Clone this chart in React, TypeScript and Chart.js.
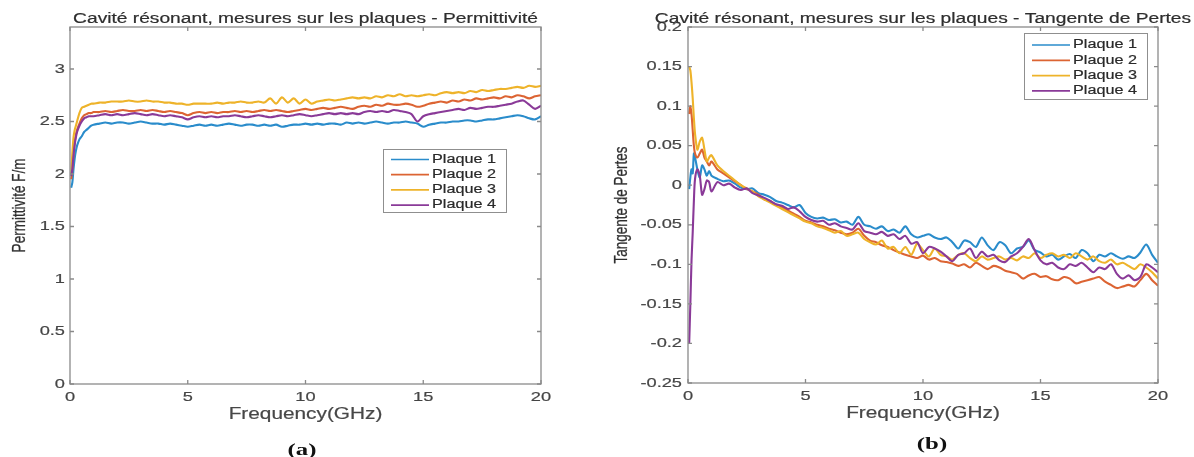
import React, { useEffect, useRef } from "react";
import { Chart, registerables } from "chart.js";

Chart.register(...registerables);

// ---------------- DATA ----------------
const freq = [
  0.05, 0.1, 0.15, 0.2, 0.25, 0.3, 0.4, 0.5, 0.6, 0.7, 0.8, 0.9,
  1, 1.25, 1.5, 1.75,
  2, 2.25, 2.5, 2.75,
  3, 3.25, 3.5, 3.75,
  4, 4.25, 4.5, 4.75,
  5, 5.25, 5.5, 5.75,
  6, 6.25, 6.5, 6.75,
  7, 7.25, 7.5, 7.75,
  8, 8.25, 8.5, 8.75,
  9, 9.25, 9.5, 9.75,
  10, 10.25, 10.5, 10.75,
  11, 11.25, 11.5, 11.75,
  12, 12.25, 12.5, 12.75,
  13, 13.25, 13.5, 13.75,
  14, 14.25, 14.5, 14.75,
  15, 15.25, 15.5, 15.75,
  16, 16.25, 16.5, 16.75,
  17, 17.25, 17.5, 17.75,
  18, 18.25, 18.5, 18.75,
  19, 19.25, 19.5, 19.75,
  20,
];

const seriesNames = ["Plaque 1", "Plaque 2", "Plaque 3", "Plaque 4"];

// Permittivité F/m
const permP1 = [
  1.87, 1.92, 2.05, 2.15, 2.22, 2.27, 2.33, 2.36, 2.4, 2.42, 2.44, 2.46,
  2.47, 2.48, 2.49, 2.48,
  2.49, 2.49, 2.48, 2.49,
  2.5, 2.49, 2.48, 2.48,
  2.47, 2.48, 2.47, 2.46,
  2.45, 2.46, 2.47, 2.46,
  2.47, 2.46, 2.47, 2.48,
  2.47, 2.46, 2.47, 2.47,
  2.46, 2.47, 2.46, 2.47,
  2.45, 2.46, 2.47, 2.47,
  2.48, 2.47, 2.48, 2.47,
  2.48, 2.48, 2.47, 2.49,
  2.48, 2.49, 2.48, 2.49,
  2.5, 2.49, 2.48, 2.49,
  2.49, 2.5, 2.49, 2.48,
  2.45, 2.47, 2.48, 2.49,
  2.49, 2.5, 2.5, 2.51,
  2.51, 2.5, 2.51, 2.52,
  2.52, 2.53, 2.54, 2.55,
  2.56, 2.55, 2.53, 2.52,
  2.55,
];
const permP2 = [
  1.95, 2.05, 2.2, 2.3, 2.37, 2.42, 2.48, 2.53, 2.56, 2.57, 2.58, 2.58,
  2.59, 2.59, 2.6, 2.59,
  2.6, 2.61, 2.6, 2.6,
  2.61, 2.6, 2.61, 2.6,
  2.59, 2.6, 2.59, 2.58,
  2.56, 2.58, 2.59, 2.58,
  2.59, 2.58, 2.59, 2.59,
  2.6, 2.59, 2.6, 2.59,
  2.6, 2.61, 2.6, 2.61,
  2.6, 2.59, 2.6, 2.61,
  2.62, 2.61, 2.62, 2.63,
  2.62, 2.63, 2.64, 2.63,
  2.62, 2.64, 2.65, 2.64,
  2.66, 2.65, 2.67, 2.66,
  2.66, 2.67, 2.66, 2.64,
  2.65, 2.67, 2.68, 2.69,
  2.68, 2.7, 2.69, 2.71,
  2.7, 2.72, 2.71, 2.72,
  2.73, 2.72, 2.74, 2.73,
  2.75, 2.74, 2.72, 2.74,
  2.75,
];
const permP3 = [
  2.0, 2.2, 2.35, 2.42, 2.46, 2.5, 2.58, 2.63, 2.64, 2.65, 2.66, 2.67,
  2.67, 2.68, 2.68, 2.69,
  2.69, 2.69, 2.7, 2.69,
  2.69, 2.7, 2.69, 2.69,
  2.68, 2.68, 2.67, 2.67,
  2.66, 2.67, 2.67, 2.67,
  2.67, 2.68, 2.67, 2.68,
  2.68, 2.69, 2.68, 2.68,
  2.69, 2.68, 2.72, 2.67,
  2.73, 2.68, 2.72, 2.67,
  2.71, 2.67, 2.69, 2.7,
  2.71, 2.7, 2.71, 2.72,
  2.73, 2.72, 2.73, 2.72,
  2.74, 2.73, 2.75, 2.74,
  2.76, 2.74, 2.75, 2.74,
  2.75, 2.76, 2.75, 2.77,
  2.78, 2.77, 2.78, 2.77,
  2.79, 2.78, 2.8, 2.79,
  2.8, 2.81, 2.81, 2.82,
  2.83, 2.82, 2.84, 2.83,
  2.84,
];
const permP4 = [
  1.98, 2.05, 2.18, 2.28, 2.35, 2.4, 2.46, 2.5, 2.53, 2.54, 2.55, 2.55,
  2.55, 2.56, 2.57, 2.56,
  2.57, 2.56, 2.57, 2.58,
  2.57, 2.56, 2.57, 2.56,
  2.55, 2.56, 2.55, 2.54,
  2.52, 2.54, 2.55, 2.54,
  2.55, 2.54, 2.55, 2.55,
  2.56, 2.55, 2.54, 2.55,
  2.56, 2.55, 2.54, 2.55,
  2.56, 2.55, 2.56, 2.57,
  2.56, 2.55, 2.56, 2.57,
  2.58, 2.57, 2.58, 2.57,
  2.58, 2.57, 2.59, 2.6,
  2.59, 2.6, 2.59, 2.61,
  2.6, 2.59, 2.57, 2.5,
  2.55, 2.57, 2.58, 2.59,
  2.6, 2.61, 2.62, 2.61,
  2.63, 2.62, 2.63, 2.64,
  2.64, 2.65, 2.66, 2.67,
  2.69, 2.7, 2.66, 2.62,
  2.65,
];

// Tangente de Pertes
const tanP1 = [
  -0.005, 0.01, 0.02, 0.015, 0.04, 0.035, 0.02, 0.01, 0.025, 0.02, 0.012, 0.018,
  0.012, 0.008, 0.005, 0.006,
  0.002, -0.003, -0.005, -0.004,
  -0.01, -0.012, -0.015, -0.02,
  -0.022, -0.025, -0.028, -0.025,
  -0.035, -0.04, -0.042, -0.041,
  -0.044, -0.043, -0.047, -0.046,
  -0.05, -0.04, -0.05, -0.052,
  -0.055, -0.052, -0.058, -0.056,
  -0.06, -0.052, -0.062, -0.066,
  -0.064, -0.062, -0.066, -0.068,
  -0.066, -0.072, -0.08, -0.07,
  -0.072, -0.078, -0.066, -0.076,
  -0.082, -0.072, -0.076, -0.086,
  -0.08, -0.078, -0.07, -0.082,
  -0.085, -0.09, -0.088, -0.094,
  -0.09, -0.087, -0.092, -0.082,
  -0.086, -0.096, -0.088, -0.09,
  -0.086, -0.09, -0.093, -0.09,
  -0.092, -0.085, -0.075, -0.088,
  -0.098,
];
const tanP2 = [
  0.09, 0.1, 0.09, 0.07, 0.05, 0.04, 0.035, 0.04, 0.045, 0.035, 0.03, 0.025,
  0.03, 0.02, 0.015, 0.01,
  0.005, 0.0, -0.005, -0.008,
  -0.012, -0.018, -0.02, -0.025,
  -0.028, -0.032, -0.036, -0.04,
  -0.045, -0.047, -0.05, -0.052,
  -0.055, -0.057, -0.06, -0.062,
  -0.06, -0.055, -0.064, -0.07,
  -0.072, -0.076, -0.078, -0.082,
  -0.085, -0.088, -0.09, -0.092,
  -0.089, -0.094, -0.092, -0.096,
  -0.097, -0.099, -0.102, -0.1,
  -0.104, -0.098, -0.102, -0.106,
  -0.102, -0.104, -0.108, -0.11,
  -0.112, -0.118, -0.114, -0.112,
  -0.116, -0.115, -0.119, -0.12,
  -0.116, -0.118, -0.124, -0.122,
  -0.12, -0.118, -0.116, -0.122,
  -0.126, -0.13, -0.128, -0.126,
  -0.128, -0.12, -0.112, -0.12,
  -0.127,
];
const tanP3 = [
  0.15, 0.145, 0.13, 0.11, 0.085, 0.065, 0.045, 0.055, 0.06, 0.045, 0.03, 0.035,
  0.038, 0.025, 0.018, 0.012,
  0.006, 0.0, -0.004, -0.008,
  -0.014, -0.018, -0.022, -0.026,
  -0.03, -0.034, -0.038, -0.042,
  -0.046, -0.048, -0.052, -0.054,
  -0.057, -0.06, -0.058, -0.064,
  -0.062, -0.06, -0.068, -0.072,
  -0.075, -0.07, -0.08, -0.078,
  -0.086, -0.078, -0.088, -0.074,
  -0.082, -0.09, -0.08, -0.088,
  -0.09, -0.094, -0.088, -0.086,
  -0.092, -0.096, -0.09, -0.094,
  -0.092, -0.09, -0.094, -0.092,
  -0.095, -0.09, -0.092, -0.086,
  -0.092, -0.088, -0.086, -0.09,
  -0.088, -0.092, -0.086, -0.09,
  -0.094, -0.09, -0.096, -0.098,
  -0.094, -0.1, -0.098, -0.102,
  -0.106, -0.1, -0.104, -0.11,
  -0.118,
];
const tanP4 = [
  -0.2, -0.15, -0.095, -0.06, -0.02, 0.008, 0.02, 0.012, -0.012, -0.005, 0.006, 0.004,
  -0.008, 0.004, 0.0, 0.002,
  -0.003, -0.006, -0.004, -0.01,
  -0.013, -0.016, -0.02, -0.024,
  -0.026, -0.03, -0.028, -0.033,
  -0.04, -0.044, -0.046, -0.045,
  -0.05, -0.048, -0.052, -0.054,
  -0.056, -0.048, -0.058, -0.06,
  -0.062, -0.059, -0.064, -0.062,
  -0.068, -0.064, -0.074, -0.072,
  -0.086, -0.078, -0.08, -0.084,
  -0.09, -0.096, -0.088, -0.086,
  -0.08, -0.092, -0.084, -0.09,
  -0.088, -0.095, -0.097, -0.09,
  -0.086, -0.078, -0.068, -0.082,
  -0.095, -0.1, -0.098, -0.104,
  -0.106, -0.1, -0.102, -0.098,
  -0.104, -0.11, -0.104, -0.106,
  -0.1, -0.112, -0.118, -0.114,
  -0.12, -0.116, -0.1, -0.104,
  -0.11,
];

const xTicks = [0, 5, 10, 15, 20];
const xTickLabels = ["0", "5", "10", "15", "20"];
const yTicksA = [0, 0.5, 1, 1.5, 2, 2.5, 3];
const yTickLabelsA = ["0", "0.5", "1", "1.5", "2", "2.5", "3"];
const yTicksB = [-0.25, -0.2, -0.15, -0.1, -0.05, 0, 0.05, 0.1, 0.15, 0.2];
const yTickLabelsB = ["-0.25", "-0.2", "-0.15", "-0.1", "-0.05", "0", "0.05", "0.1", "0.15", "0.2"];

const titleA = "Cavité résonant, mesures sur les plaques - Permittivité";
const titleB = "Cavité résonant, mesures sur les plaques - Tangente de Pertes";
const xTitle = "Frequency(GHz)";
const yTitleA = "Permittivité F/m";
const yTitleB = "Tangente de Pertes";

// ---------------- STYLE ----------------
const COLORS = ["#2a8ccb", "#dc6433", "#eeb32a", "#8a3a98"];
const SANS = '"Liberation Sans", Arial, Helvetica, sans-serif';
const SERIF = '"Liberation Serif", "Times New Roman", serif';
const SX = 1.35;
const AXIS_COLOR = "#8a8a8a";
const TICK_LEN = 4;

function drawText(ctx: any, text: string, x: number, y: number, font: string, color: string, align: string, baseline: string, sx: number, weight = 0.2) {
  ctx.save();
  ctx.translate(x, y);
  ctx.scale(sx, 1);
  ctx.font = font;
  ctx.fillStyle = color;
  ctx.strokeStyle = color;
  ctx.lineWidth = weight;
  ctx.textAlign = align;
  ctx.textBaseline = baseline;
  ctx.fillText(text, 0, 0);
  if (weight > 0) ctx.strokeText(text, 0, 0);
  ctx.restore();
}

function drawRotated(ctx: any, text: string, x: number, y: number, font: string, color: string, sx: number) {
  ctx.save();
  ctx.translate(x, y);
  ctx.rotate(-Math.PI / 2);
  ctx.scale(1, sx);
  ctx.font = font;
  ctx.fillStyle = color;
  ctx.strokeStyle = color;
  ctx.lineWidth = 0.2;
  ctx.textAlign = "center";
  ctx.textBaseline = "middle";
  ctx.fillText(text, 0, 0);
  ctx.strokeText(text, 0, 0);
  ctx.restore();
}

function makeDecor(cfg: any) {
  return {
    id: "matlabDecor",
    afterDatasetsDraw(chart: any) {
      const ctx = chart.ctx;
      const a = chart.chartArea;
      const xs = chart.scales.x;
      const ys = chart.scales.y;

      // axes box + inward ticks on all sides
      ctx.save();
      ctx.strokeStyle = AXIS_COLOR;
      ctx.lineWidth = 1.3;
      ctx.strokeRect(a.left, a.top, a.right - a.left, a.bottom - a.top);
      ctx.beginPath();
      cfg.xTicks.forEach((v: number) => {
        const px = xs.getPixelForValue(v);
        ctx.moveTo(px, a.bottom);
        ctx.lineTo(px, a.bottom - TICK_LEN);
        ctx.moveTo(px, a.top);
        ctx.lineTo(px, a.top + TICK_LEN);
      });
      cfg.yTicks.forEach((v: number) => {
        const py = ys.getPixelForValue(v);
        ctx.moveTo(a.left, py);
        ctx.lineTo(a.left + TICK_LEN, py);
        ctx.moveTo(a.right, py);
        ctx.lineTo(a.right - TICK_LEN, py);
      });
      ctx.stroke();
      ctx.restore();

      // tick labels
      const tickFont = `13.5px ${SANS}`;
      cfg.xTicks.forEach((v: number, i: number) => {
        drawText(ctx, cfg.xLabels[i], xs.getPixelForValue(v), a.bottom + 13, tickFont, "#454545", "center", "middle", SX);
      });
      cfg.yTicks.forEach((v: number, i: number) => {
        drawText(ctx, cfg.yLabels[i], a.left - cfg.yLabelGap, ys.getPixelForValue(v), tickFont, "#454545", "right", "middle", SX);
      });

      // titles
      drawText(ctx, cfg.title, (a.left + a.right) / 2, a.top - 4, `14px ${SANS}`, "#2e2e2e", "center", "alphabetic", 1.37);
      drawText(ctx, cfg.xTitle, (a.left + a.right) / 2, a.bottom + 35, `16px ${SANS}`, "#474747", "center", "alphabetic", 1.3);
      drawRotated(ctx, cfg.yTitle, a.left - cfg.yTitleOffset, (a.top + a.bottom) / 2, `13.5px ${SANS}`, "#303030", SX);

      // caption
      drawText(ctx, cfg.caption, cfg.captionX, cfg.captionY, `bold 16px ${SERIF}`, "#111111", "center", "alphabetic", 1.55, 0);

      // legend
      const lg = cfg.legend;
      const bx = a.right - lg.fromRight;
      const by = a.top + lg.fromTop;
      ctx.save();
      ctx.fillStyle = "#ffffff";
      ctx.fillRect(bx, by, lg.width, lg.height);
      ctx.strokeStyle = "#8f8f8f";
      ctx.lineWidth = 1;
      ctx.strokeRect(bx + 0.5, by + 0.5, lg.width, lg.height);
      ctx.restore();
      chart.data.datasets.forEach((ds: any, i: number) => {
        const ry = by + lg.rowStart + i * lg.rowStep;
        ctx.save();
        ctx.strokeStyle = ds.borderColor;
        ctx.lineWidth = 1.7;
        ctx.beginPath();
        ctx.moveTo(bx + 8, ry);
        ctx.lineTo(bx + 46, ry);
        ctx.stroke();
        ctx.restore();
        drawText(ctx, ds.label, bx + 49, ry, `12px ${SANS}`, "#2a2a2a", "left", "middle", SX);
      });
    },
  };
}

function buildConfig(series: number[][], yMin: number, yMax: number, yTicks: number[], decor: any, pad: any, yWidth: number, xHeight: number) {
  return {
    type: "line",
    data: {
      datasets: series.map((s, i) => ({
        label: seriesNames[i],
        data: freq.map((f, j) => ({ x: f, y: s[j] })),
        borderColor: COLORS[i],
        backgroundColor: COLORS[i],
        borderWidth: 2.1,
        pointRadius: 0,
        tension: 0.3,
        fill: false,
        order: 4 - i,
      })),
    },
    options: {
      animation: false,
      responsive: false,
      maintainAspectRatio: false,
      events: [],
      layout: { padding: pad },
      plugins: {
        legend: { display: false },
        tooltip: { enabled: false },
        title: { display: false },
      },
      scales: {
        x: {
          type: "linear",
          min: 0,
          max: 20,
          afterBuildTicks: (s: any) => {
            s.ticks = xTicks.map((v) => ({ value: v }));
          },
          afterFit: (s: any) => {
            s.height = xHeight;
          },
          ticks: { display: false },
          grid: { display: false },
          border: { display: false },
        },
        y: {
          type: "linear",
          min: yMin,
          max: yMax,
          afterBuildTicks: (s: any) => {
            s.ticks = yTicks.map((v) => ({ value: v }));
          },
          afterFit: (s: any) => {
            s.width = yWidth;
          },
          ticks: { display: false },
          grid: { display: false },
          border: { display: false },
        },
      },
    },
    plugins: [decor],
  };
}

function Panel(props: { config: any; left: number }) {
  const ref = useRef<HTMLCanvasElement | null>(null);
  useEffect(() => {
    if (!ref.current) return;
    const chart = new Chart(ref.current, props.config);
    return () => chart.destroy();
  }, []);
  return (
    <div style={{ position: "absolute", left: props.left, top: 0, width: 597, height: 457 }}>
      <canvas ref={ref} width={597} height={457} style={{ display: "block", width: 597, height: 457 }} />
    </div>
  );
}

export default function App() {
  const decorA = makeDecor({
    xTicks, xLabels: xTickLabels, yTicks: yTicksA, yLabels: yTickLabelsA,
    yLabelGap: 5, yTitleOffset: 50,
    title: titleA, xTitle, yTitle: yTitleA,
    caption: "(a)", captionX: 302, captionY: 455,
    legend: { fromRight: 158, fromTop: 122, width: 123, height: 63, rowStart: 10.5, rowStep: 15.2 },
  });
  const decorB = makeDecor({
    xTicks, xLabels: xTickLabels, yTicks: yTicksB, yLabels: yTickLabelsB,
    yLabelGap: 6, yTitleOffset: 66,
    title: titleB, xTitle, yTitle: yTitleB,
    caption: "(b)", captionX: 335, captionY: 449,
    legend: { fromRight: 134, fromTop: 6, width: 123, height: 66, rowStart: 12, rowStep: 15.3 },
  });
  const configA = buildConfig([permP1, permP2, permP3, permP4], 0, 3.4, yTicksA, decorA,
    { left: 0, right: 56, top: 27, bottom: 0 }, 70, 73);
  const configB = buildConfig([tanP1, tanP2, tanP3, tanP4], -0.25, 0.2, yTicksB, decorB,
    { left: 0, right: 36, top: 27, bottom: 0 }, 91, 74);
  return (
    <div style={{ position: "absolute", left: 0, top: 0, width: 1194, height: 457, background: "#ffffff", overflow: "hidden" }}>
      <Panel config={configA} left={0} />
      <Panel config={configB} left={597} />
    </div>
  );
}
